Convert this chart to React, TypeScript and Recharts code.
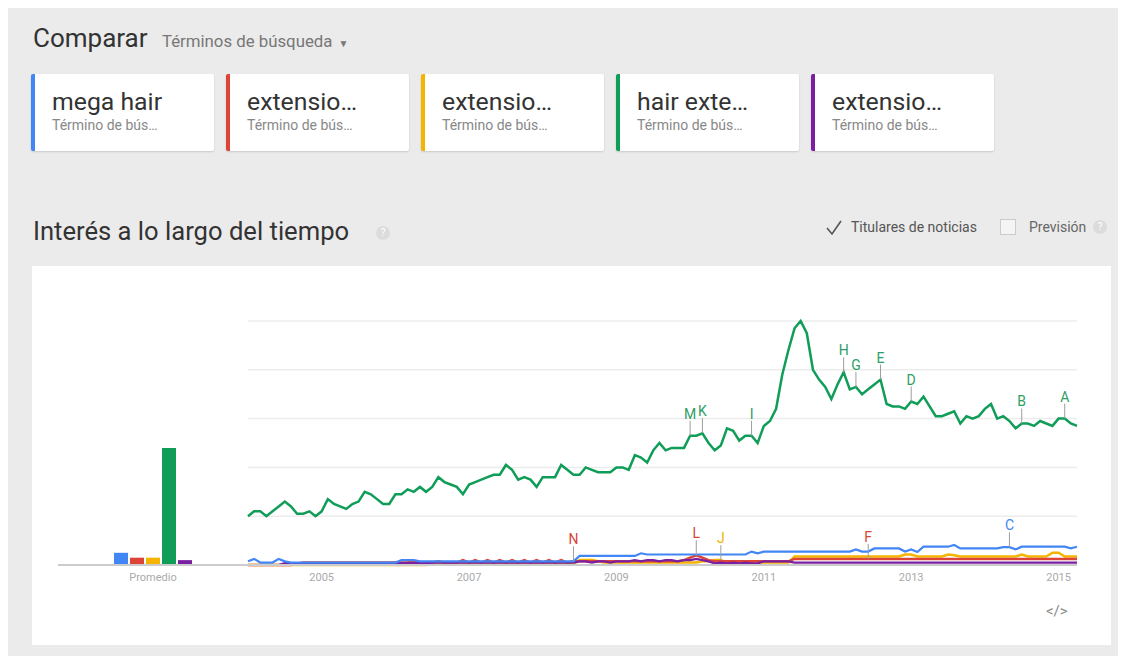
import React from 'react';
import { LineChart, Line, XAxis, YAxis, CartesianGrid, BarChart, Bar } from 'recharts';

const terms = ['mega hair', 'extensio…', 'extensio…', 'hair exte…', 'extensio…'];
const colors = ['#4285f4', '#db4437', '#f4b400', '#0f9d58', '#7b1fa2'];
const startYear = 2004;
const yearTicks = [2005, 2007, 2009, 2011, 2013, 2015];
const averages = [5, 3, 3, 48, 2];

// monthly values, Jan 2004 .. Apr 2015
const megaHair = [
  1.5, 2.5, 1, 1, 1, 2.5, 1.5, 1, 1, 1,
  1, 1, 1, 1, 1, 1, 1, 1, 1, 1,
  1, 1, 1, 1, 1, 2, 2, 2, 1.5, 1.5,
  1.5, 1.5, 1.5, 1.5, 1.5, 1.5, 1.5, 1.5, 1.5, 1.5,
  1.5, 1.5, 1.5, 1.5, 1.5, 1.5, 1.5, 1.5, 1.5, 1.5,
  1.5, 1.5, 1.5, 1.5, 3.7, 3.7, 3.7, 3.7, 3.7, 3.7,
  3.7, 3.7, 3.7, 3.7, 4.8, 4.3, 4.3, 4.3, 4.3, 4.3,
  4.3, 4.3, 4.3, 4.3, 4.3, 4.3, 4.3, 4.3, 4.3, 4.3,
  4.3, 4.3, 5.5, 4.8, 5.5, 5.5, 5.5, 5.5, 5.5, 5.5,
  5.5, 5.5, 5.5, 5.5, 5.5, 5.5, 5.5, 5.5, 5.5, 6.4,
  5.5, 5.5, 6.8, 6.8, 6.8, 6.8, 6.8, 5.5, 6.4, 5.3,
  7.5, 7.5, 7.5, 7.5, 7.5, 8.2, 6.8, 6.8, 6.8, 6.8,
  6.8, 6.8, 6.8, 7.3, 7.3, 6.4, 7.5, 7.5, 7.5, 7.5,
  7.5, 7.5, 7.5, 7.5, 6.8, 7.5,
];
const term2 = [
  0, 0, 0, 0, 0, 0, 0, 0, 0.5, 1,
  1, 1, 1, 1, 1, 1, 1, 1, 1, 1,
  1, 1, 1, 1, 1, 1, 1, 1.5, 1, 1,
  1, 1.5, 1, 1, 1, 2, 1, 2, 1, 2,
  1, 2, 1, 2, 1, 2, 1, 2, 1, 2,
  1, 2, 1, 1.5, 1.5, 1.5, 1.5, 1.5, 1.5, 1.5,
  1.5, 1.5, 1.5, 1.5, 1.5, 1.5, 1.5, 1.5, 1.5, 1.5,
  1.5, 2, 3, 4, 3, 2, 1.5, 1.5, 1.5, 1.5,
  1.5, 1.5, 1.5, 1.5, 1.5, 1.5, 1.5, 1.5, 1.5, 2.5,
  2.5, 2.5, 2.5, 2.5, 2.5, 2.5, 2.5, 2.5, 2.5, 2.5,
  2.5, 2.5, 2.5, 2.5, 2.5, 2.5, 2.5, 2.5, 2.5, 2.5,
  2.5, 2.5, 2.5, 2.5, 2.5, 2.5, 2.5, 2.5, 2.5, 2.5,
  2.5, 2.5, 2.5, 2.5, 2.5, 2.5, 2.5, 2.5, 2.5, 2.5,
  2.5, 2.5, 2.5, 2.5, 2.5, 2.5,
];
const term3 = [
  0, 0, 0, 0, 0, 0, 0, 0, 0, 0,
  0, 0, 0, 0, 0, 0, 0, 0, 0, 0,
  0, 0, 0, 0, 0, 0, 0, 0, 0, 0,
  0.5, 0.5, 0.5, 0.5, 0.5, 0.5, 0.5, 0.5, 0.5, 0.5,
  0.5, 0.5, 0.5, 0.5, 0.5, 0.5, 0.5, 0.5, 0.5, 0.5,
  0.5, 0.5, 0.5, 0.5, 2, 2, 2, 1.5, 1, 1,
  1, 1, 1, 1, 1, 1, 1, 1, 1, 1,
  1, 1, 1, 1, 1.5, 1.5, 2, 2, 1, 1,
  1, 1, 1, 1, 1, 1, 1, 1, 1, 3.5,
  3.5, 3.5, 3.5, 3.5, 3.5, 3.5, 3.5, 3.5, 3.5, 3.5,
  3.5, 3.5, 3.5, 3.5, 3.5, 3.5, 3.5, 4.3, 4.3, 3.5,
  3.5, 3.5, 3.5, 3.5, 4.3, 4, 3.5, 3.5, 3.5, 3.5,
  3.5, 3.5, 3.5, 3.5, 3.5, 3.5, 4.3, 3.5, 3.5, 3.5,
  3.5, 5, 5, 3.5, 3.5, 3.5,
];
const hairExtensions = [
  20, 22, 22, 20, 22, 24, 26, 24, 21, 21,
  22, 20, 22, 27, 25, 24, 23, 25, 26, 30,
  29, 27, 25, 25, 29, 29, 31, 30, 32, 30,
  32, 36, 34, 33, 32, 29, 33, 34, 35, 36,
  37, 37, 41, 39, 35, 36, 35, 32, 36, 36,
  36, 41, 39, 37, 37, 40, 39, 38, 38, 38,
  40, 40, 39, 45, 44, 42, 47, 50, 47, 48,
  48, 48, 53, 53, 54, 50, 47, 49, 56, 55,
  51, 53, 53, 50, 57, 59, 64, 78, 88, 97,
  100, 95, 80, 76, 73, 68, 74, 79, 72, 73,
  70, 72, 74, 76, 66, 65, 65, 64, 67, 66,
  69, 65, 61, 61, 62, 63, 58, 61, 60, 61,
  64, 66, 60, 61, 59, 56, 58, 58, 57, 59,
  58, 57, 60, 60, 58, 57,
];
const term5 = [
  0, 0, 0, 0, 0, 0, 0.8, 0.8, 0.8, 0.8,
  0.8, 0.8, 0.8, 0.8, 0.8, 0.8, 0.8, 0.8, 0.8, 0.8,
  0.8, 0.8, 0.8, 0.8, 0.8, 0.8, 0.8, 0.8, 0.8, 0.8,
  1, 1, 1, 1, 1, 1, 1, 1, 1, 1,
  1, 1, 1, 1, 1, 1, 1, 1, 1, 1,
  1, 1, 1, 1, 1.5, 1.5, 1, 1.5, 1.5, 1,
  1.5, 1.5, 1.5, 2, 1.5, 2, 2, 1.5, 2, 2,
  1.5, 2, 2, 2.5, 2, 1.5, 0.7, 1, 0.7, 1,
  0.7, 1, 0.7, 0.7, 1.5, 1.5, 1.5, 1.5, 1.5, 1,
  1, 1, 1, 1, 1, 1, 1, 1, 1, 1,
  1, 1, 1, 1, 1, 1, 1, 1, 1, 1,
  1, 1, 1, 1, 1, 1, 1, 1, 1, 1,
  1, 1, 1, 1, 1, 1, 1, 1, 1, 1,
  1, 1, 1, 1, 1, 1,
];

// news headline letters, keyed by month index
const blueMarks: Record<number, string> = { 124: 'C' };
const redMarks: Record<number, string> = { 53: 'N', 73: 'L', 101: 'F' };
const yellowMarks: Record<number, string> = { 77: 'J' };
const greenMarks: Record<number, string> = { 72: 'M', 74: 'K', 82: 'I', 97: 'H', 99: 'G', 103: 'E', 108: 'D', 126: 'B', 133: 'A' };

const series = [megaHair, term2, term3, hairExtensions, term5];
const rows = hairExtensions.map((_, i) => {
  const r: any = { i };
  series.forEach((s, k) => { r['s' + k] = s[i]; });
  return r;
});
const avgRow = [averages.reduce((acc: any, v, k) => { acc['s' + k] = v; return acc; }, { name: 'Promedio' })];

const FONT = 'Roboto, "Noto Sans", Arial, sans-serif';

function markDot(marks: Record<number, string>, color: string) {
  return (props: any) => {
    const { cx, cy, index } = props;
    const letter = marks[index];
    if (!letter || cx == null || cy == null) return <g key={`d-${index}`} />;
    return (
      <g key={`d-${index}`}>
        <line x1={cx} y1={cy} x2={cx} y2={cy - 15} stroke="#9e9e9e" strokeWidth={1} />
        <text x={cx} y={cy - 17} textAnchor="middle" fill={color} fontSize={14} fontFamily={FONT}>{letter}</text>
      </g>
    );
  };
}

function HelpIcon({ left, top }: { left: number; top: number }) {
  return (
    <div style={{ position: 'absolute', left, top, width: 14, height: 14, borderRadius: 7, background: '#dcdcdc', color: '#fff', fontSize: 10, lineHeight: '14px', textAlign: 'center', fontFamily: FONT }}>?</div>
  );
}

export default function App() {
  return (
    <div style={{ position: 'relative', width: 1112, height: 648, background: '#ebebeb', fontFamily: FONT, overflow: 'hidden' }}>
      <div style={{ position: 'absolute', left: 25, top: 15, fontSize: 26, color: '#333', lineHeight: '30px' }}>Comparar</div>
      <div style={{ position: 'absolute', left: 154, top: 23, fontSize: 16.8, color: '#777', lineHeight: '20px' }}>
        Términos de búsqueda <span style={{ fontSize: 10, marginLeft: 2 }}>▼</span>
      </div>

      {terms.map((t, k) => (
        <div key={k} style={{ position: 'absolute', left: 23 + k * 195, top: 66, width: 179, height: 77, background: '#fff', borderLeft: `4px solid ${colors[k]}`, borderRadius: 2, boxShadow: '0 1px 2px rgba(0,0,0,0.15)' }}>
          <div style={{ position: 'absolute', left: 17, top: 14, fontSize: 24.8, color: '#333', lineHeight: '28px', whiteSpace: 'nowrap' }}>{t}</div>
          <div style={{ position: 'absolute', left: 17, top: 43, fontSize: 14, color: '#888', lineHeight: '16px', whiteSpace: 'nowrap' }}>Término de bús…</div>
        </div>
      ))}

      <div style={{ position: 'absolute', left: 25, top: 208, fontSize: 25.6, color: '#333', lineHeight: '30px' }}>Interés a lo largo del tiempo</div>
      <HelpIcon left={368} top={218} />

      <svg style={{ position: 'absolute', left: 816, top: 210 }} width={20} height={20}>
        <path d="M3 10 L8 16 L17 3" stroke="#555" strokeWidth={1.6} fill="none" />
      </svg>
      <div style={{ position: 'absolute', left: 843, top: 210, fontSize: 14, color: '#555', lineHeight: '18px' }}>Titulares de noticias</div>
      <div style={{ position: 'absolute', left: 992, top: 211, width: 14, height: 14, border: '1px solid #ccc', background: '#f4f4f4' }} />
      <div style={{ position: 'absolute', left: 1021, top: 210, fontSize: 14, color: '#666', lineHeight: '18px' }}>Previsión</div>
      <HelpIcon left={1085} top={212} />

      <div style={{ position: 'absolute', left: 24, top: 258, width: 1079, height: 379, background: '#fff' }} />

      <div style={{ position: 'absolute', left: 32, top: 282 }}>
        <BarChart width={208} height={330} data={avgRow} margin={{ top: 31, right: 0, bottom: 25, left: 18 }} barGap={2}>
          <XAxis dataKey="name" axisLine={{ stroke: '#cccccc', strokeWidth: 2 }} tickLine={false} tick={{ fill: '#aaa', fontSize: 11, fontFamily: FONT }} height={30} />
          <YAxis hide domain={[0, 100]} />
          {averages.map((_, k) => (
            <Bar key={k} dataKey={'s' + k} fill={colors[k]} barSize={14} isAnimationActive={false} />
          ))}
        </BarChart>
      </div>

      <div style={{ position: 'absolute', left: 232, top: 282 }}>
        <LineChart width={850} height={330} data={rows} margin={{ top: 31, right: 13, bottom: 25, left: 8 }}>
          <CartesianGrid vertical={false} stroke="#ececec" strokeWidth={1.5} />
          <XAxis
            dataKey="i"
            type="number"
            domain={[0, hairExtensions.length - 1]}
            ticks={yearTicks.map((y) => (y - startYear) * 12)}
            tickFormatter={(v: number) => String(startYear + v / 12)}
            axisLine={{ stroke: '#cccccc', strokeWidth: 2 }}
            tickLine={false}
            tick={{ fill: '#aaa', fontSize: 11, fontFamily: FONT }}
            height={30}
          />
          <YAxis hide domain={[0, 100]} ticks={[0, 20, 40, 60, 80, 100]} />
          <Line dataKey="s2" stroke={colors[2]} strokeWidth={2.5} dot={markDot(yellowMarks, colors[2])} isAnimationActive={false} />
          <Line dataKey="s1" stroke={colors[1]} strokeWidth={2.5} dot={markDot(redMarks, colors[1])} isAnimationActive={false} />
          <Line dataKey="s4" stroke={colors[4]} strokeWidth={2.2} dot={false} isAnimationActive={false} />
          <Line dataKey="s0" stroke={colors[0]} strokeWidth={2.2} dot={markDot(blueMarks, colors[0])} isAnimationActive={false} />
          <Line dataKey="s3" stroke={colors[3]} strokeWidth={2.5} dot={markDot(greenMarks, '#2e9e66')} isAnimationActive={false} />
        </LineChart>
      </div>

      <div style={{ position: 'absolute', left: 1038, top: 594, fontSize: 15, color: '#888', lineHeight: '18px' }}>&lt;/&gt;</div>
    </div>
  );
}
